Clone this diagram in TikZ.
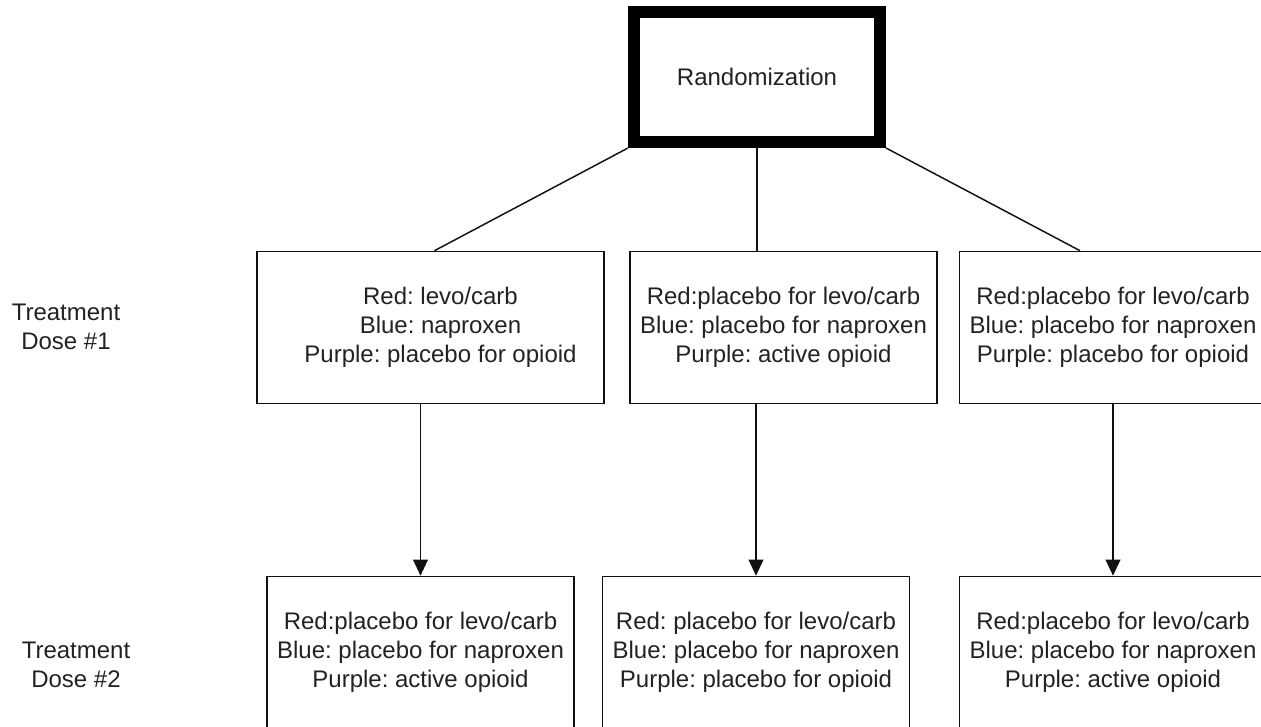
\documentclass[tikz,border=0pt]{standalone}
\usepackage{fontspec}
\setmainfont{Liberation Sans}
\usepackage{tikz}
\usetikzlibrary{arrows.meta,positioning,calc}
\usepackage{xcolor}
\definecolor{Ink}{HTML}{222222}
\definecolor{Frame}{HTML}{111111}
\frenchspacing
\tikzset{
  armbox/.style={draw=Frame, line width=1.2pt, rectangle, minimum height=114pt,
    minimum width=#1, align=center, text=Ink, inner sep=0pt,
    font=\fontsize{18}{21.9}\selectfont},
  armbox/.default={230.25pt},
  dosearr/.style={-{Triangle[length=12pt,width=11pt]}, line width=1.2pt, color=Frame},
}

\begin{document}
\begin{tikzpicture}[x=0.75pt, y=-0.75pt,
  randbox/.style={draw=black, line width=9pt, minimum width=184.5pt,
    minimum height=97.5pt, text=Ink, font=\fontsize{18}{21.6}\selectfont},
  doselabel/.style={align=center, text=Ink, font=\fontsize{18}{21.6}\selectfont},
  branch/.style={line width=1.1pt, color=Frame},
]
  \path[use as bounding box, clip] (0,0) rectangle (1261,727);

  \node[randbox] (rand) at (757,77) {\raisebox{-2pt}{Randomization}};

  % first dose
  \node[armbox=260.25pt] (arm1) at (430.5,327.5) {\hspace*{15pt}Red: levo/carb\\\hspace*{15pt}Blue: naproxen\\\hspace*{15pt}Purple: placebo for opioid};
  \node[armbox] (arm2) at (783.5,327.5) {Red:placebo for levo/carb\\Blue: placebo for naproxen\\Purple: active opioid};
  \node[armbox] (arm3) at (1113,327.5) {Red:placebo for levo/carb\\Blue: placebo for naproxen\\Purple: placebo for opioid};

  % second dose
  \node[armbox] (cross1) at (420.5,652.5) {Red:placebo for levo/carb\\Blue: placebo for naproxen\\Purple: active opioid};
  \node[armbox] (cross2) at (756,652.5) {Red: placebo for levo/carb\\Blue: placebo for naproxen\\Purple: placebo for opioid};
  \node[armbox] (cross3) at (1113,652.5) {Red:placebo for levo/carb\\Blue: placebo for naproxen\\Purple: active opioid};

  \node[doselabel] (dose1) at (66,327) {Treatment\\Dose \#1};
  \node[doselabel] (dose2) at (76,665) {Treatment\\Dose \#2};

  \draw[branch] (rand.south west) -- ([xshift=3pt]arm1.north);
  \draw[branch] (rand.south) -- (rand.south |- arm2.north);
  \draw[branch] (rand.south east) -- ([xshift=-24.75pt]arm3.north);

  \draw[dosearr] (arm1.south -| cross1.north) -- (cross1.north);
  \draw[dosearr] (arm2.south -| cross2.north) -- (cross2.north);
  \draw[dosearr] (arm3.south -| cross3.north) -- (cross3.north);
\end{tikzpicture}
\end{document}
